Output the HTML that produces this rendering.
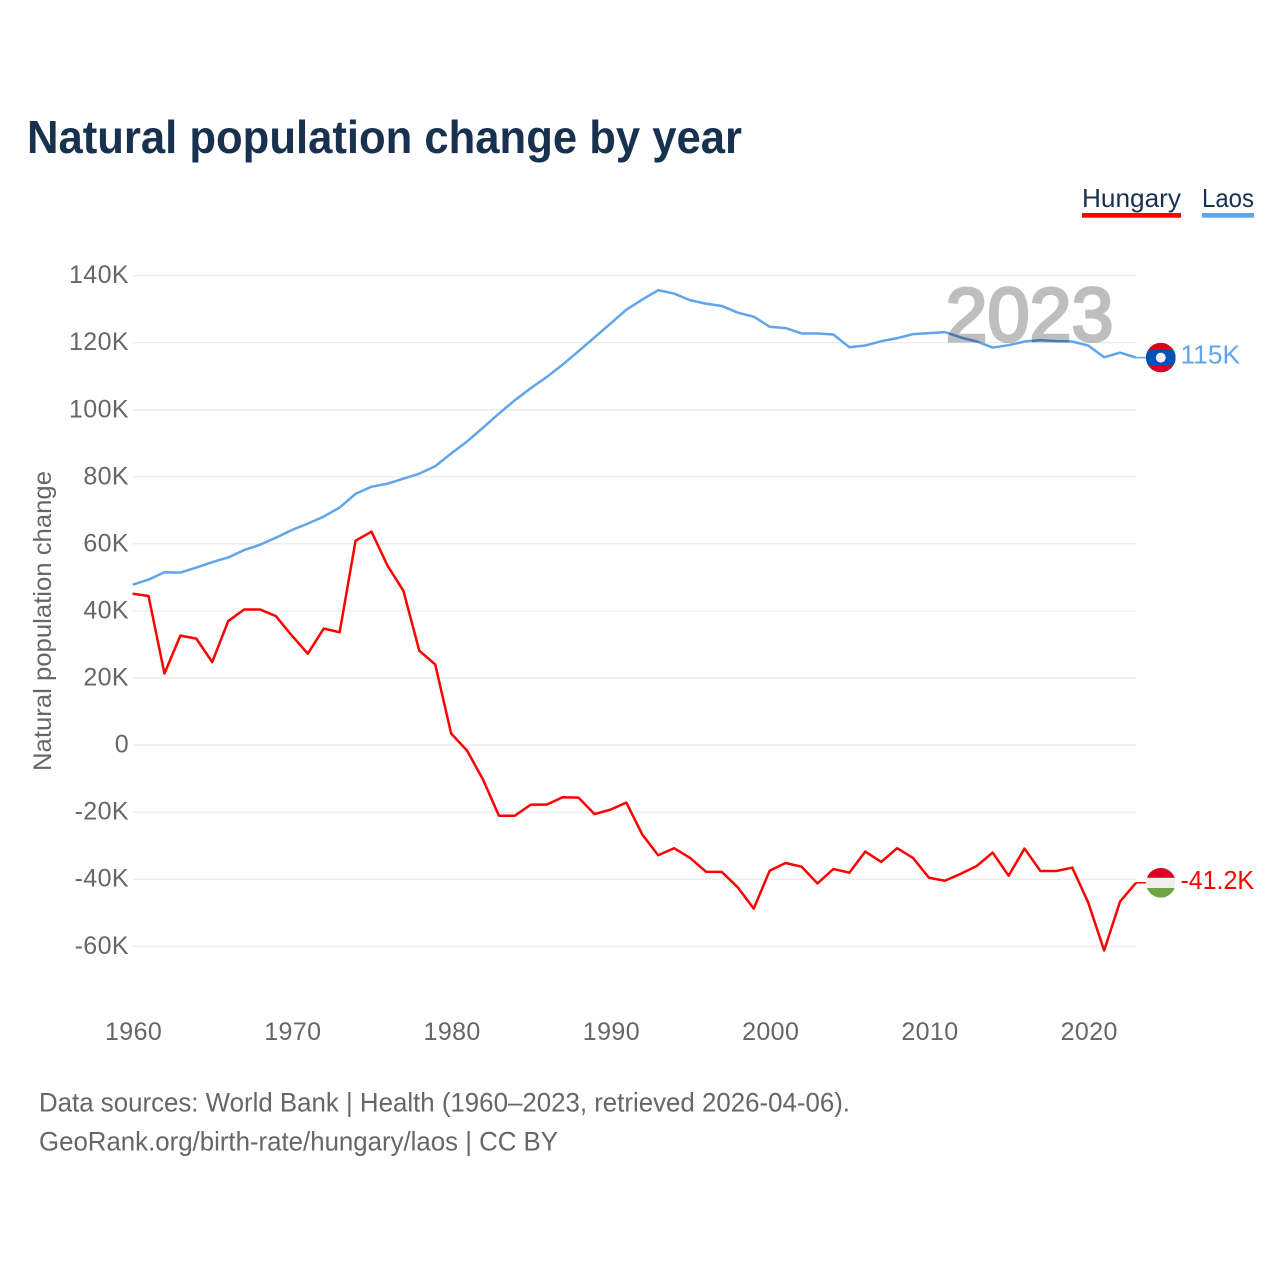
<!DOCTYPE html>
<html lang="en">
<head>
<meta charset="utf-8">
<title>Natural population change by year</title>
<style>
html,body{margin:0;padding:0;background:#fff;width:1280px;height:1280px;overflow:hidden}
svg{display:block;font-family:"Liberation Sans",sans-serif}
</style>
</head>
<body>
<svg id="chart" width="1280" height="1280" viewBox="0 0 1280 1280" xmlns="http://www.w3.org/2000/svg">
  <rect width="1280" height="1280" fill="#fff"/>
  <text x="27" y="153" font-size="46" font-weight="700" fill="#18314f" textLength="715" lengthAdjust="spacingAndGlyphs">Natural population change by year</text>

  <g>
    <text x="1082" y="207" font-size="26" fill="#18314f" textLength="99" lengthAdjust="spacingAndGlyphs">Hungary</text>
    <rect x="1082" y="213" width="99" height="4.7" fill="#ff0000"/>
  </g>
  <g>
    <text x="1202" y="207" font-size="26" fill="#18314f" textLength="52" lengthAdjust="spacingAndGlyphs">Laos</text>
    <rect x="1202" y="213" width="52" height="4.7" fill="#60a5ec"/>
  </g>

  <g id="grid"></g>
  <g id="yticks"></g>
  <g id="xticks"></g>
  <text transform="translate(51,621) rotate(-90)" text-anchor="middle" font-size="25" fill="#666" textLength="300" lengthAdjust="spacingAndGlyphs">Natural population change</text>

  <g id="series"></g>

  <text x="945.5" y="341" font-size="76" font-weight="400" fill="#000" stroke="#000" stroke-width="3" opacity="0.25" textLength="168" lengthAdjust="spacingAndGlyphs">2023</text>

  <g id="ends"></g>

  <text x="39" y="1111.5" font-size="27" fill="#666" textLength="811" lengthAdjust="spacingAndGlyphs">Data sources: World Bank | Health (1960–2023, retrieved 2026-04-06).</text>
  <text x="39" y="1150.5" font-size="27" fill="#666" textLength="519" lengthAdjust="spacingAndGlyphs">GeoRank.org/birth-rate/hungary/laos | CC BY</text>
</svg>
<script>
const years = [1960,1961,1962,1963,1964,1965,1966,1967,1968,1969,1970,1971,1972,1973,1974,1975,1976,1977,1978,1979,1980,1981,1982,1983,1984,1985,1986,1987,1988,1989,1990,1991,1992,1993,1994,1995,1996,1997,1998,1999,2000,2001,2002,2003,2004,2005,2006,2007,2008,2009,2010,2011,2012,2013,2014,2015,2016,2017,2018,2019,2020,2021,2022,2023];
const hungaryValues = [45.0,44.3,21.2,32.5,31.6,24.6,36.8,40.3,40.3,38.3,32.5,27.1,34.6,33.5,60.8,63.5,53.4,45.9,28.0,23.9,3.3,-1.8,-10.4,-21.2,-21.2,-17.9,-17.9,-15.7,-15.8,-20.7,-19.4,-17.3,-26.8,-33.0,-30.9,-33.8,-37.9,-38.0,-42.6,-48.9,-37.6,-35.3,-36.4,-41.4,-37.1,-38.2,-31.9,-35.0,-30.9,-33.8,-39.7,-40.6,-38.5,-36.2,-32.2,-39.1,-31.0,-37.7,-37.7,-36.7,-47.1,-61.4,-46.8,-41.2];
const laosValues = [47.7,49.2,51.4,51.3,52.8,54.4,55.8,58.0,59.6,61.7,64.0,65.9,68.0,70.7,74.8,76.9,77.8,79.3,80.8,83.0,86.8,90.4,94.5,98.7,102.7,106.3,109.6,113.3,117.3,121.4,125.5,129.7,132.7,135.5,134.5,132.5,131.5,130.8,128.8,127.6,124.6,124.2,122.6,122.6,122.3,118.5,119.0,120.3,121.2,122.4,122.7,123.0,121.4,120.2,118.4,119.1,120.2,120.6,120.3,120.2,119.0,115.5,116.9,115.4];
const yTickValues = [140,120,100,80,60,40,20,0,-20,-40,-60];
const yTickLabels = ["140K","120K","100K","80K","60K","40K","20K","0","-20K","-40K","-60K"];
const xTickYears = [1960,1970,1980,1990,2000,2010,2020];

const NS = 'http://www.w3.org/2000/svg';
const xScale = yr => 132.6 + (yr - 1960) * (1136 - 132.6) / 63;
const yScale = v => 744.6 - v * 3.3535;
function make(tag, attrs, parent, text) {
  const el = document.createElementNS(NS, tag);
  for (const k in attrs) el.setAttribute(k, attrs[k]);
  if (text !== undefined) el.textContent = text;
  parent.appendChild(el);
  return el;
}
const grid = document.getElementById('grid');
const yticks = document.getElementById('yticks');
const xticks = document.getElementById('xticks');
const series = document.getElementById('series');
const ends = document.getElementById('ends');

yTickValues.forEach((v, i) => {
  const line = make('line', {x1: 133, x2: 1136, y1: yScale(v) + 0.5, y2: yScale(v) + 0.5, stroke: '#e9e9e9', 'stroke-width': 1.2}, grid);
  
  
  const label = make('text', {x: 129, y: yScale(v) + 8, 'text-anchor': 'end', 'font-size': 25, fill: '#666', 'letter-spacing': 0.4}, yticks, yTickLabels[i]);
  
  
});
xTickYears.forEach(yr => {
  const label = make('text', {x: xScale(yr) + 1, y: 1040, 'text-anchor': 'middle', 'font-size': 25, fill: '#666', 'letter-spacing': 0.4}, xticks, String(yr));
  
  
});

function linePath(values) {
  return values.map((v, i) => (i ? 'L' : 'M') + xScale(years[i]).toFixed(2) + ' ' + yScale(v).toFixed(2)).join(' ');
}
const laosLine = make('path', {d: linePath(laosValues), fill: 'none', stroke: '#60a5ec', 'stroke-width': 2.5, 'stroke-linejoin': 'round'}, series);


const hungaryLine = make('path', {d: linePath(hungaryValues), fill: 'none', stroke: '#ff0000', 'stroke-width': 2.5, 'stroke-linejoin': 'round'}, series);



function endMarker(values, color, labelText, kind, labelWidth) {
  const last = values[values.length - 1];
  const y = yScale(last);
  const x0 = xScale(years[years.length - 1]);
  const lead = make('line', {x1: x0, x2: x0 + 10, y1: y, y2: y, stroke: color, 'stroke-width': 1.5}, ends);
  
  
  const cx = 1160.8, r = 14.8;
  const clipId = 'clip-' + kind;
  const defs = make('clipPath', {id: clipId}, ends);
  make('circle', {cx: cx, cy: y, r: r}, defs);
  const flag = make('g', {'clip-path': 'url(#' + clipId + ')'}, ends);
  
  
  if (kind === 'laos') {
    make('rect', {x: cx - r, y: y - r, width: 2 * r, height: 2 * r, fill: '#d80027'}, flag);
    make('rect', {x: cx - r, y: y - 7.5, width: 2 * r, height: 15, fill: '#0052b4'}, flag);
    make('circle', {cx: cx, cy: y, r: 5, fill: '#f0f0f0'}, flag);
  } else {
    make('rect', {x: cx - r, y: y - r, width: 2 * r, height: 2 * r, fill: '#f0f0f0'}, flag);
    make('rect', {x: cx - r, y: y - r, width: 2 * r, height: r - 5, fill: '#d80027'}, flag);
    make('rect', {x: cx - r, y: y + 5.2, width: 2 * r, height: r - 5, fill: '#6da544'}, flag);
  }
  const text = make('text', {x: 1180.5, y: y + 6, 'font-size': 26, fill: color, textLength: labelWidth, lengthAdjust: 'spacingAndGlyphs'}, ends, labelText);
  
  
}
endMarker(laosValues, '#60a5ec', '115K', 'laos', 59.5);
endMarker(hungaryValues, '#ff0000', '-41.2K', 'hungary', 73.5);
</script>
</body>
</html>
